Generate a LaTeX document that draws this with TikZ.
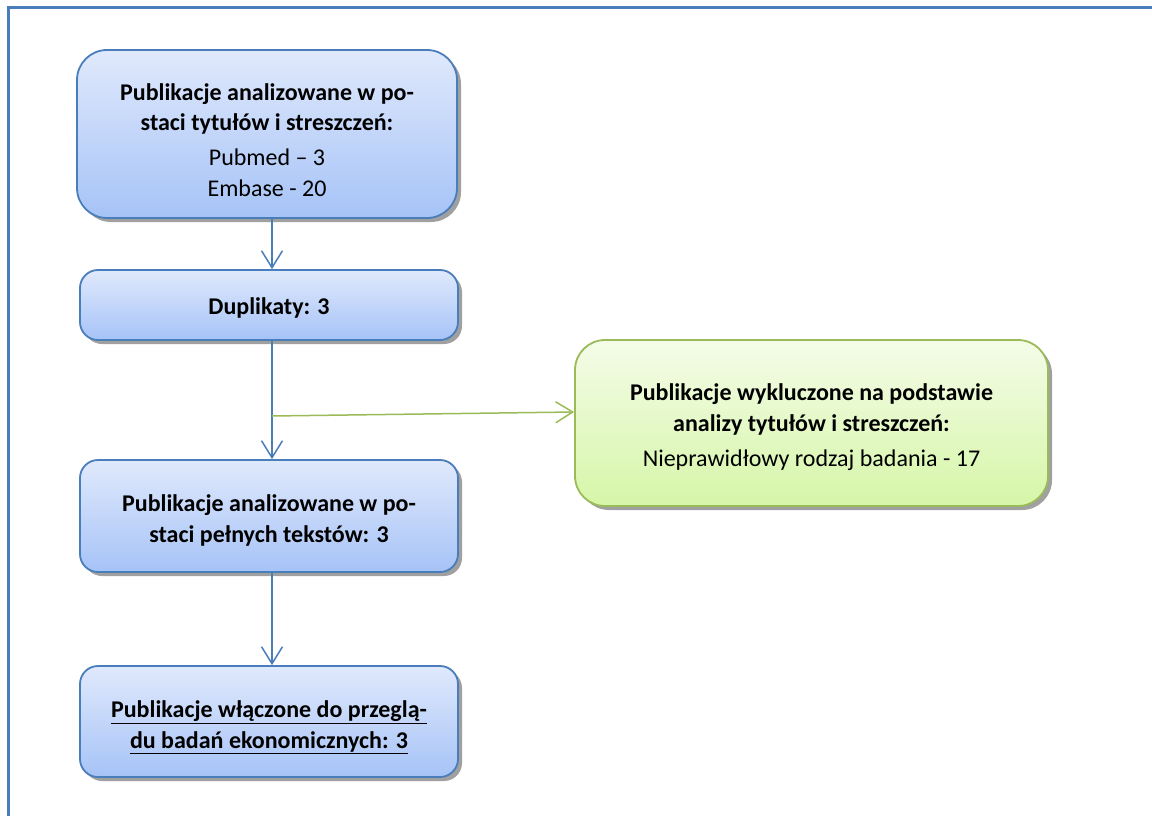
\documentclass[tikz,border=0pt]{standalone}
\usepackage{fontspec}
\setmainfont{Carlito}
\usetikzlibrary{arrows.meta,shadows}
\definecolor{bluebord}{RGB}{74,126,187}
\definecolor{bluetop}{RGB}{224,233,252}
\definecolor{bluebot}{RGB}{166,195,247}
\definecolor{greenbord}{RGB}{155,187,89}
\definecolor{greentop}{RGB}{244,252,232}
\definecolor{greenbot}{RGB}{214,246,168}
\definecolor{shadowgray}{RGB}{150,150,150}
\begin{document}
\begin{tikzpicture}[x=1pt,y=-1pt,
  bluebox/.style={draw=bluebord, line width=1.8pt, top color=bluetop, bottom color=bluebot,
    rounded corners=#1, inner sep=0pt,
    drop shadow={shadow xshift=4pt, shadow yshift=-4pt, fill=shadowgray, opacity=0.9}},
  bluebox/.default=18pt,
  greenbox/.style={draw=greenbord, line width=1.8pt, top color=greentop, bottom color=greenbot,
    rounded corners=30pt, inner sep=0pt,
    drop shadow={shadow xshift=4pt, shadow yshift=-4pt, fill=shadowgray, opacity=0.9}},
  txt/.style={align=center, inner sep=0pt, font=\fontsize{24}{30.5}\selectfont},
  bluearr/.style={draw=bluebord, line width=1.5pt, -{Straight Barb[length=17pt,width=21pt,line width=1.5pt]}},
  greenarr/.style={draw=greenbord, line width=1.5pt, -{Straight Barb[length=17pt,width=21pt,line width=1.5pt]}},
  frame/.style={draw=bluebord, line width=3pt}
]
\useasboundingbox (0,0) rectangle (1152,816);
\draw[frame] (8,816) -- (8,8) -- (1152,8);

\node[bluebox=30pt, minimum width=380pt, minimum height=168pt] (b1) at (267,134) {};
\node[txt] (b1t) at ([yshift=-6pt]b1.center)
  {\textbf{Publikacje analizowane w po-}\\\textbf{staci tytułów i streszczeń:}\\[4.5pt]Pubmed – 3\\Embase - 20};
\node[bluebox, minimum width=378pt, minimum height=70pt] (b2) at (269,305) {};
\node[txt] (b2t) at ([yshift=-3pt]b2.center) {\textbf{Duplikaty: 3}};
\node[bluebox, minimum width=378pt, minimum height=112pt] (b3) at (269,516) {};
\node[txt] (b3t) at ([yshift=-4.5pt]b3.center)
  {\textbf{Publikacje analizowane w po-}\\\textbf{staci pełnych tekstów: 3}};
\node[bluebox, minimum width=378pt, minimum height=111pt] (b4) at (269,721.5) {};
\node[txt] (b4t) at ([yshift=-6pt]b4.center)
  {\textbf{\underline{Publikacje włączone do przeglą-}}\\\textbf{\underline{du badań ekonomicznych: 3}}};
\node[greenbox, minimum width=473pt, minimum height=166pt] (g) at (811.5,423) {};
\node[txt] (gt) at ([yshift=-4pt]g.center)
  {\textbf{Publikacje wykluczone na podstawie}\\\textbf{analizy tytułów i streszczeń:}\\[4.5pt]Nieprawidłowy rodzaj badania - 17};

\coordinate (ax) at (272,0);
\coordinate (gs) at (272,416);
\draw[bluearr] (b1.south -| ax) -- (b2.north -| ax);
\draw[bluearr] (b2.south -| ax) -- (b3.north -| ax);
\draw[bluearr] (b3.south -| ax) -- (b4.north -| ax);
\draw[greenarr] (gs) -- ([yshift=11pt]g.west);
\end{tikzpicture}
\end{document}
